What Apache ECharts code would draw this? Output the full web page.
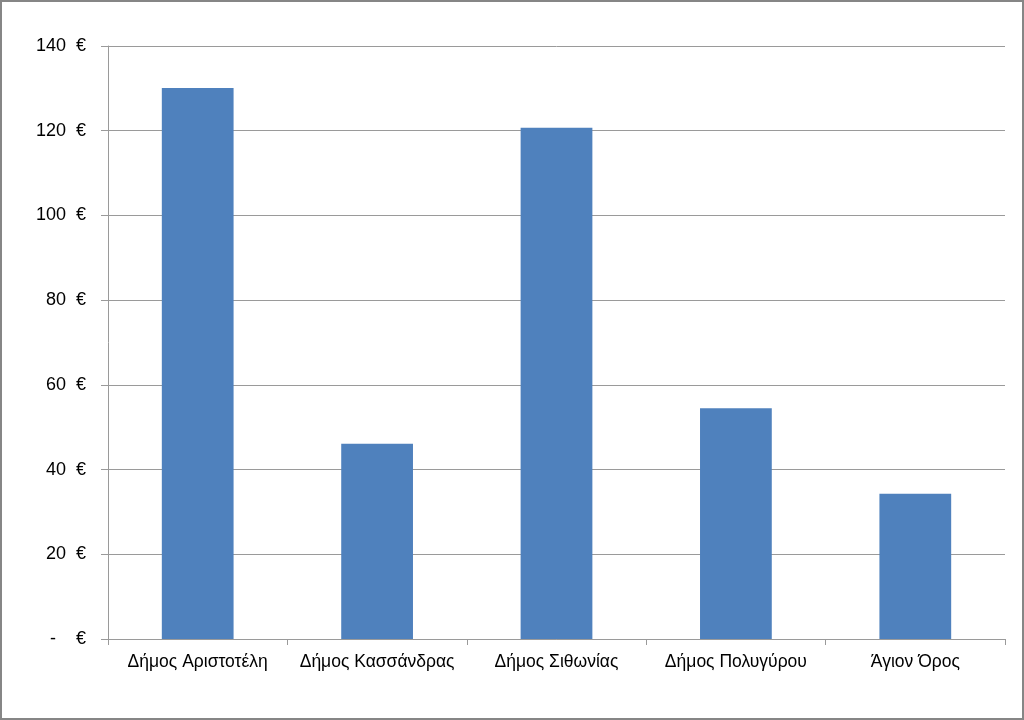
<!DOCTYPE html>
<html>
<head>
<meta charset="utf-8">
<script src="https://cdn.jsdelivr.net/npm/echarts@6/dist/echarts.min.js"></script>
<style>
html,body{margin:0;padding:0;background:#fff;}
#c{width:1024px;height:720px;}
</style>
</head>
<body>
<div id="c"></div>
<script>
var categories = ['Δήμος Αριστοτέλη', 'Δήμος Κασσάνδρας', 'Δήμος Σιθωνίας', 'Δήμος Πολυγύρου', 'Άγιον Όρος'];
var values = [130.1, 46.1, 120.7, 54.5, 34.3];
var yTicks = [0, 20, 40, 60, 80, 100, 120, 140];

var chart = echarts.init(document.getElementById('c'));
chart.setOption({
  animation: false,
  backgroundColor: '#fff',
  graphic: [{
    type: 'rect',
    shape: {x: 1, y: 1, width: 1022, height: 718},
    style: {fill: 'none', stroke: '#868686', lineWidth: 2},
    silent: true
  }],
  grid: {left: 108, right: 19, top: 46, bottom: 81},
  xAxis: {
    type: 'category',
    data: categories,
    axisLine: {lineStyle: {color: '#9a9a9a', width: 1}},
    axisTick: {show: true, length: 6, lineStyle: {color: '#9a9a9a'}},
    axisLabel: {color: '#000', fontSize: 17.5, fontFamily: 'Liberation Sans, Arial, sans-serif', margin: 14, interval: 0}
  },
  yAxis: {
    type: 'value',
    min: yTicks[0],
    max: yTicks[yTicks.length - 1],
    interval: 20,
    axisLine: {show: true, lineStyle: {color: '#9a9a9a', width: 1}},
    axisTick: {show: true, length: 7, lineStyle: {color: '#9a9a9a'}},
    splitLine: {show: true, lineStyle: {color: '#9a9a9a', width: 1}},
    axisLabel: {
      color: '#000', fontSize: 18, fontFamily: 'Liberation Sans, Arial, sans-serif', margin: 22,
      formatter: function (v) { return v === 0 ? '-    €' : v + '  €'; }
    }
  },
  series: [{
    type: 'bar',
    data: values,
    barWidth: '40%',
    itemStyle: {color: '#4F81BD'}
  }]
});
</script>
</body>
</html>
